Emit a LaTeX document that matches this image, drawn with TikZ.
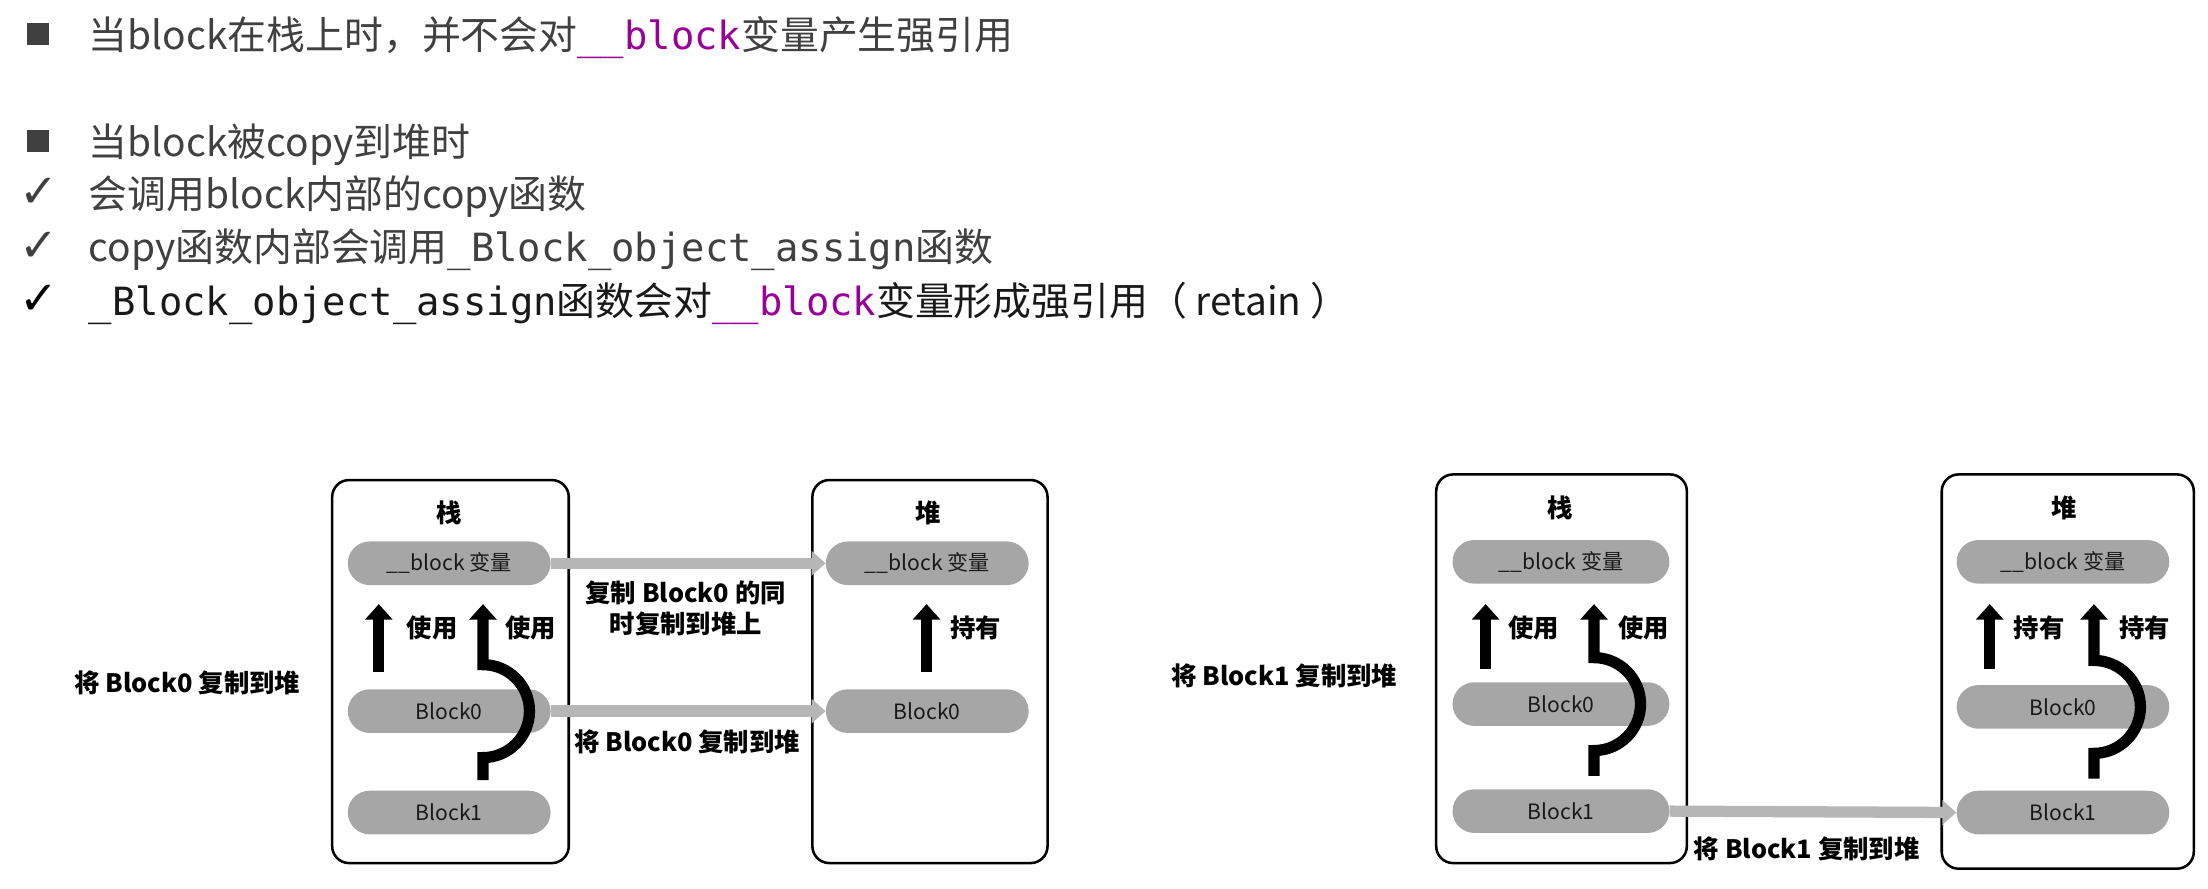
\documentclass[tikz,border=0pt]{standalone}
\usepackage{fontspec}
\setmainfont{Noto Sans CJK SC}
\setmonofont{DejaVu Sans Mono}
\newfontfamily\symf{DejaVu Sans}
\usetikzlibrary{arrows.meta}
\definecolor{txt}{RGB}{64,64,64}
\definecolor{purp}{RGB}{153,0,153}
\definecolor{pillc}{RGB}{166,166,166}
\definecolor{garrow}{RGB}{182,182,182}
\newcommand\bulgeup[3]{%
  \draw[uparrow] (#1,#2) -- (#1,#3+33) .. controls (#1+18.2,#3+33) and (#1+33,#3+18.2) .. (#1+33,#3) .. controls (#1+33,#3-18.2) and (#1+18.2,#3-33) .. (#1,#3-33) -- (#1,429);}
\begin{document}
\begin{tikzpicture}[x=1pt,y=-1pt,
  top/.style={anchor=base west, text=txt, inner sep=0, font=\fontsize{27.6}{32}\selectfont},
  sq/.style={fill=txt, minimum size=15.5, inner sep=0},
  chk/.style={text=txt, inner sep=0, font=\symf\fontsize{33}{33}\selectfont},
  box/.style={draw=black, line width=1.8, rounded corners=12, anchor=north west},
  pill/.style={fill=pillc, rounded corners=15.5, minimum height=31, inner sep=0, text=black!90, font=\fontsize{15}{15}\selectfont},
  ttl/.style={inner sep=0, font=\bfseries\fontsize{18}{18}\selectfont},
  lab/.style={inner sep=0, align=center, font=\bfseries\fontsize{18}{22}\selectfont},
  uparrow/.style={line width=8, -{Triangle[width=19,length=11]}},
  garr/.style={draw=garrow, line width=8, -{Triangle[width=17,length=10]}}
]
\useasboundingbox (0,0) rectangle (1568,631);

% ---- top text ----
\node[sq] (b1) at (27,24) {};
\node[top] (t1) at (63,35) {当block在栈上时，并不会对\textcolor{purp}{\texttt{\_\_block}}变量产生强引用};
\node[sq] (b2) at (27,100) {};
\node[top] (t2) at (63,111) {当block被copy到堆时};
\node[chk] (c3) at (28,137) {✓};
\node[top] (t3) at (63,148) {会调用block内部的copy函数};
\node[chk] (c4) at (28,175) {✓};
\node[top] (t4) at (63,186) {copy函数内部会调用\texttt{\_Block\_object\_assign}函数};
\node[chk, text=black] (c5) at (28,213) {✓};
\node[top, text=black!90] (t5) at (63,224) {\texttt{\_Block\_object\_assign}函数会对\textcolor{purp}{\texttt{\_\_block}}变量形成强引用（ retain ）};

% ---- diagram 1 ----
\node[lab] (l1) at (133,485) {将 Block0 复制到堆};
\node[box, minimum width=168, minimum height=272] (S1) at (235,340) {};
\node[box, minimum width=167, minimum height=272] (H1) at (576,340) {};
\node[ttl] (s1t) at (319,364) {栈};
\node[ttl] (h1t) at (659,364) {堆};
\node[pill, minimum width=144] (s1v) at (319,400) {\_\_block 变量};
\node[pill, minimum width=144] (s1b0) at (319,505) {Block0};
\node[pill, minimum width=144] (s1b1) at (319,577) {Block1};
\node[pill, minimum width=144] (h1v) at (658.5,400) {\_\_block 变量};
\node[pill, minimum width=144] (h1b0) at (658.5,505) {Block0};
\draw[garr] (s1v.east) -- (h1v.west);
\draw[garr] (s1b0.east) -- (h1b0.west);
\draw[uparrow] (269,477) -- (269,429);
\bulgeup{343}{554}{505}
\draw[uparrow] (658,477) -- (658,429);
\node[lab] (u1) at (307,446) {使用};
\node[lab] (u2) at (377,446) {使用};
\node[lab] (p1) at (693,446) {持有};
\node[lab] (m1) at (487,432) {复制 Block0 的同\\时复制到堆上};
\node[lab] (m2) at (488,527) {将 Block0 复制到堆};

% ---- diagram 2 ----
\node[lab] (l2) at (912,480) {将 Block1 复制到堆};
\node[box, minimum width=178, minimum height=276] (S2) at (1019,336) {};
\node[box, minimum width=179, minimum height=280] (H2) at (1378,336) {};
\node[ttl] (s2t) at (1108,361) {栈};
\node[ttl] (h2t) at (1466,361) {堆};
\node[pill, minimum width=154] (s2v) at (1108.5,399) {\_\_block 变量};
\node[pill, minimum width=154] (s2b0) at (1108.5,500) {Block0};
\node[pill, minimum width=154] (s2b1) at (1108.5,576) {Block1};
\node[pill, minimum width=151] (h2v) at (1465,399) {\_\_block 变量};
\node[pill, minimum width=151] (h2b0) at (1465,502) {Block0};
\node[pill, minimum width=151] (h2b1) at (1465,577) {Block1};
\draw[garr] (s2b1.east) -- (h2b1.west);
\draw[uparrow] (1055,475) -- (1055,429);
\bulgeup{1132}{551}{500}
\draw[uparrow] (1413,475) -- (1413,429);
\bulgeup{1487}{553}{502}
\node[lab] (u3) at (1089,446) {使用};
\node[lab] (u4) at (1167,446) {使用};
\node[lab] (p2) at (1448,446) {持有};
\node[lab] (p3) at (1523,446) {持有};
\node[lab] (m3) at (1283,603) {将 Block1 复制到堆};
\end{tikzpicture}
\end{document}
